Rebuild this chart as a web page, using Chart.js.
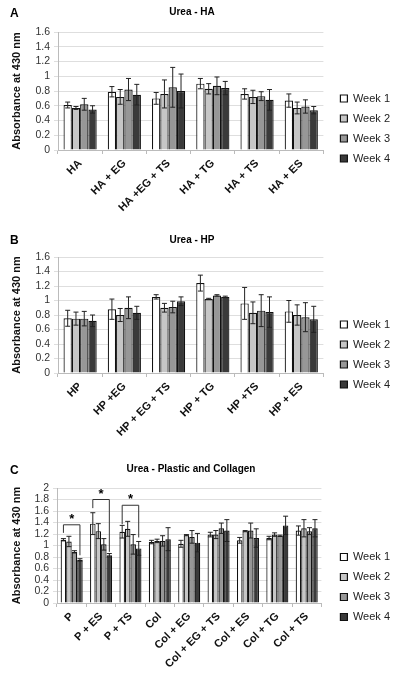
<!DOCTYPE html>
<html>
<head>
<meta charset="utf-8">
<script src="https://cdn.jsdelivr.net/npm/chart.js@4.4.1/dist/chart.umd.min.js"></script>
<style>
  body { margin: 0; background: #fff; width: 400px; height: 676px; overflow: hidden; }
  .panel { position: absolute; left: 0; width: 400px; }
  .letter { position: absolute; left: 10px; font: bold 12px "Liberation Sans", Arial, sans-serif; line-height: 14px; color: #000; }
</style>
</head>
<body>
<div class="panel" style="top:0;height:225px"><canvas id="chartA" width="400" height="225"></canvas></div>
<div class="panel" style="top:225px;height:225px"><canvas id="chartB" width="400" height="225"></canvas></div>
<div class="panel" style="top:450px;height:226px"><canvas id="chartC" width="400" height="226"></canvas></div>
<div class="letter" style="top:6px">A</div>
<div class="letter" style="top:233px">B</div>
<div class="letter" style="top:463px">C</div>
<script>
const weekNames = ['Week 1', 'Week 2', 'Week 3', 'Week 4'];
const weekColors = ['#ffffff', '#c6c6c6', '#979797', '#3a3a3a'];

// Panel A - HA
const haLabels = ['HA', 'HA + EG', 'HA +EG + TS', 'HA + TG', 'HA + TS', 'HA + ES'];
const haWeek1 = [0.61, 0.79, 0.70, 0.90, 0.76, 0.67];
const haWeek2 = [0.57, 0.72, 0.76, 0.83, 0.72, 0.57];
const haWeek3 = [0.62, 0.82, 0.85, 0.87, 0.73, 0.59];
const haWeek4 = [0.55, 0.75, 0.80, 0.84, 0.68, 0.54];
const haErr1 = [0.04, 0.07, 0.08, 0.07, 0.07, 0.09];
const haErr2 = [0.02, 0.10, 0.19, 0.07, 0.09, 0.08];
const haErr3 = [0.08, 0.15, 0.27, 0.12, 0.06, 0.09];
const haErr4 = [0.05, 0.14, 0.23, 0.09, 0.14, 0.05];

// Panel B - HP
const hpLabels = ['HP', 'HP +EG', 'HP + EG + TS', 'HP + TG', 'HP +TS', 'HP + ES'];
const hpWeek1 = [0.755, 0.88, 1.05, 1.24, 0.96, 0.85];
const hpWeek2 = [0.75, 0.80, 0.90, 1.02, 0.83, 0.80];
const hpWeek3 = [0.75, 0.90, 0.91, 1.07, 0.86, 0.77];
const hpWeek4 = [0.72, 0.83, 0.99, 1.05, 0.84, 0.74];
const hpErr1 = [0.11, 0.14, 0.03, 0.11, 0.22, 0.15];
const hpErr2 = [0.09, 0.09, 0.06, 0.01, 0.15, 0.14];
const hpErr3 = [0.10, 0.15, 0.08, 0.01, 0.22, 0.20];
const hpErr4 = [0.08, 0.09, 0.06, 0.01, 0.21, 0.18];

// Panel C - Plastic and Collagen
const pcLabels = ['P', 'P + ES', 'P + TS', 'Col', 'Col + EG', 'Col + EG + TS', 'Col + ES', 'Col + TG', 'Col + TS'];
const pcWeek1 = [1.10, 1.38, 1.24, 1.06, 1.03, 1.19, 1.09, 1.13, 1.26];
const pcWeek2 = [1.07, 1.25, 1.29, 1.08, 1.18, 1.19, 1.25, 1.19, 1.30];
const pcWeek3 = [0.89, 1.02, 1.02, 1.08, 1.15, 1.30, 1.26, 1.17, 1.25];
const pcWeek4 = [0.75, 0.83, 0.95, 1.11, 1.05, 1.26, 1.13, 1.35, 1.30];
const pcErr1 = [0.02, 0.19, 0.11, 0.03, 0.06, 0.04, 0.05, 0.03, 0.08];
const pcErr2 = [0.09, 0.13, 0.13, 0.03, 0.01, 0.07, 0.01, 0.03, 0.15];
const pcErr3 = [0.02, 0.10, 0.17, 0.09, 0.11, 0.09, 0.13, 0.01, 0.06];
const pcErr4 = [0.02, 0.03, 0.12, 0.20, 0.16, 0.19, 0.16, 0.16, 0.15];

// significance brackets in panel C (week 1 to week 4)
const sigCategory = ['P', 'P + ES', 'P + TS'];
const sigLevel = [1.36, 1.80, 1.70];
const sigLeftEnd = [1.22, 1.65, 1.37];
const sigRightEnd = [0.83, 0.89, 1.14];

const FONT = '"Liberation Sans", Arial, sans-serif';

// draws the error bars of every dataset
const errorBars = {
  id: 'errorBars',
  afterDatasetsDraw(chart) {
    const ctx = chart.ctx;
    const y = chart.scales.y;
    ctx.save();
    ctx.strokeStyle = '#222';
    ctx.lineWidth = 1;
    chart.data.datasets.forEach((ds, i) => {
      const meta = chart.getDatasetMeta(i);
      meta.data.forEach((bar, j) => {
        const v = ds.data[j], e = ds.errors[j];
        const top = y.getPixelForValue(v + e);
        const bot = y.getPixelForValue(v - e);
        ctx.beginPath();
        ctx.moveTo(bar.x, top); ctx.lineTo(bar.x, bot);
        ctx.moveTo(bar.x - 2.5, top); ctx.lineTo(bar.x + 2.5, top);
        ctx.moveTo(bar.x - 2.5, bot); ctx.lineTo(bar.x + 2.5, bot);
        ctx.stroke();
      });
    });
    ctx.restore();
  }
};

const sigBrackets = {
  id: 'sigBrackets',
  afterDatasetsDraw(chart) {
    const ctx = chart.ctx;
    const y = chart.scales.y;
    const first = chart.getDatasetMeta(0);
    const last = chart.getDatasetMeta(3);
    ctx.save();
    ctx.strokeStyle = '#333';
    ctx.lineWidth = 1;
    ctx.fillStyle = '#000';
    ctx.font = 'bold 13px ' + FONT;
    ctx.textAlign = 'center';
    sigCategory.forEach((name, k) => {
      const idx = chart.data.labels.indexOf(name);
      const x1 = first.data[idx].x, x2 = last.data[idx].x;
      const yl = y.getPixelForValue(sigLevel[k]);
      ctx.beginPath();
      ctx.moveTo(x1, y.getPixelForValue(sigLeftEnd[k]));
      ctx.lineTo(x1, yl);
      ctx.lineTo(x2, yl);
      ctx.lineTo(x2, y.getPixelForValue(sigRightEnd[k]));
      ctx.stroke();
      ctx.fillText('*', (x1 + x2) / 2, yl - 2);
    });
    ctx.restore();
  }
};

// nudges the legend and title blocks to where the original figure has them
const blockShift = {
  id: 'blockShift',
  afterLayout(chart, args, opts) {
    const l = chart.legend;
    l.left += opts.legDx; l.right += opts.legDx;
    l.top += opts.legDy; l.bottom += opts.legDy;
    const t = chart.titleBlock;
    t.left += opts.titleDx; t.right += opts.titleDx;
  }
};

function makePanel(id, title, labels, series, errors, yMax, geo, extra) {
  const datasets = series.map((d, i) => ({
    label: weekNames[i],
    data: d,
    errors: errors[i],
    backgroundColor: weekColors[i],
    borderColor: '#111',
    borderWidth: 1.2,
    categoryPercentage: 0.75,
    barPercentage: 1.0
  }));
  return new Chart(document.getElementById(id), {
    type: 'bar',
    data: { labels: labels, datasets: datasets },
    options: {
      responsive: false,
      animation: false,
      layout: { padding: { left: 8, right: geo.padRight, top: 0, bottom: 0 } },
      plugins: {
        title: {
          display: true,
          text: title,
          color: '#000',
          font: { family: FONT, size: 10, weight: 'bold' },
          padding: { top: geo.titleY - 6, bottom: geo.plotTop - geo.titleY - 6 }
        },
        legend: {
          position: 'right',
          labels: {
            boxWidth: 7,
            boxHeight: 7,
            padding: 9,
            color: '#222',
            font: { family: FONT, size: 11 }
          }
        },
        blockShift: { legDx: geo.padRight, legDy: geo.legDy, titleDx: -8 },
        tooltip: { enabled: false }
      },
      scales: {
        x: {
          afterFit: s => { s.height = geo.h - geo.plotBottom; },
          grid: { offset: true, drawOnChartArea: false, tickLength: 4, color: '#bbb' },
          border: { color: '#bbb' },
          ticks: {
            minRotation: 45, maxRotation: 45, autoSkip: false,
            color: '#111',
            font: { family: FONT, size: 11, weight: 'bold' }
          }
        },
        y: {
          min: 0, max: yMax,
          afterFit: s => { s.width = geo.plotLeft - 8; },
          grid: { color: '#dedede', tickLength: 4 },
          border: { color: '#bbb' },
          ticks: {
            stepSize: 0.2,
            autoSkip: false,
            padding: 4,
            color: '#333',
            font: { family: FONT, size: 10.5 },
            callback: v => String(Math.round(v * 10) / 10)
          },
          title: {
            display: true,
            text: 'Absorbance at 430 nm',
            color: '#111',
            font: { family: FONT, size: 11, weight: 'bold' },
            padding: 2
          }
        }
      }
    },
    plugins: [errorBars, blockShift].concat(extra || [])
  });
}

makePanel('chartA', 'Urea - HA', haLabels,
  [haWeek1, haWeek2, haWeek3, haWeek4], [haErr1, haErr2, haErr3, haErr4], 1.6,
  { h: 225, titleY: 12, plotTop: 32, plotBottom: 150, plotLeft: 58, padRight: 8, legDy: 16 });

makePanel('chartB', 'Urea - HP', hpLabels,
  [hpWeek1, hpWeek2, hpWeek3, hpWeek4], [hpErr1, hpErr2, hpErr3, hpErr4], 1.6,
  { h: 225, titleY: 15, plotTop: 32, plotBottom: 148, plotLeft: 58, padRight: 8, legDy: 17 });

makePanel('chartC', 'Urea - Plastic and Collagen', pcLabels,
  [pcWeek1, pcWeek2, pcWeek3, pcWeek4], [pcErr1, pcErr2, pcErr3, pcErr4], 2,
  { h: 226, titleY: 19, plotTop: 38, plotBottom: 153, plotLeft: 57, padRight: 10, legDy: 24 }, [sigBrackets]);
</script>
</body>
</html>
